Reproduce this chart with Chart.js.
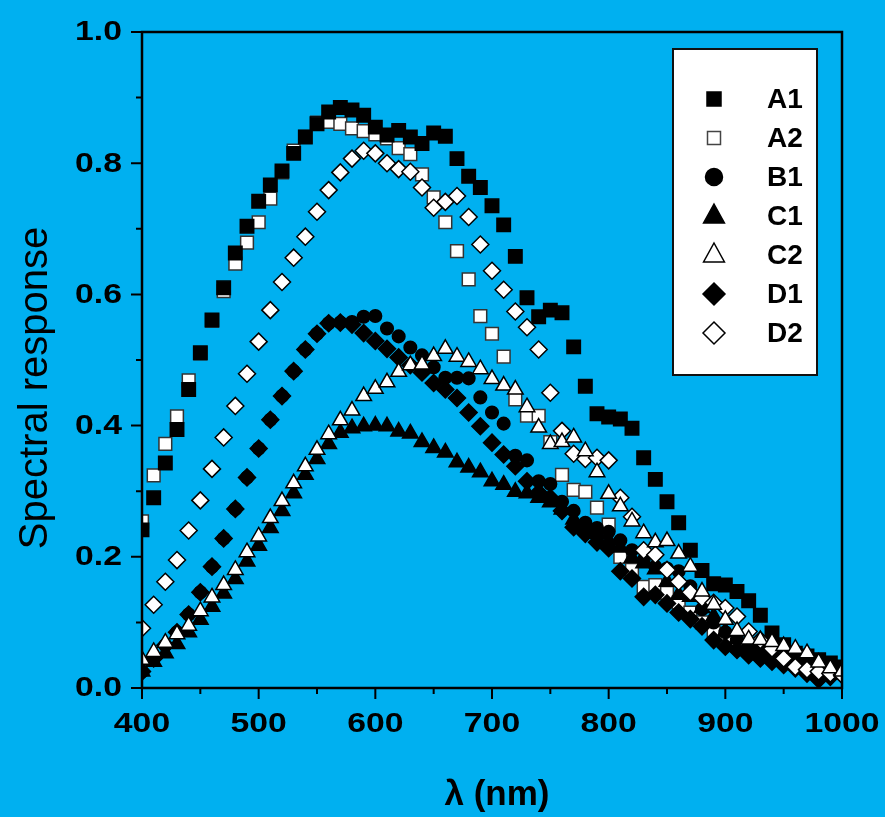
<!DOCTYPE html>
<html>
<head>
<meta charset="utf-8">
<script src="https://cdn.jsdelivr.net/npm/chart.js@4.4.1/dist/chart.umd.min.js"></script>
<style>
  html, body { margin: 0; padding: 0; background: #00B0F0; }
  #wrap { width: 885px; height: 817px; }
</style>
</head>
<body>
<div id="wrap"><canvas id="chart" width="885" height="817"></canvas></div>
<script>
// wavelength in nm
const wavelengths = [400, 410, 420, 430, 440, 450, 460, 470, 480, 490, 500, 510, 520, 530, 540, 550, 560, 570, 580, 590,
    600, 610, 620, 630, 640, 650, 660, 670, 680, 690, 700, 710, 720, 730, 740, 750, 760, 770, 780, 790,
    800, 810, 820, 830, 840, 850, 860, 870, 880, 890, 900, 910, 920, 930, 940, 950, 960, 970, 980, 990, 1000];

const A1 = [0.241, 0.29, 0.343, 0.394, 0.455, 0.511, 0.561, 0.61, 0.663, 0.704, 0.742, 0.767, 0.788, 0.815, 0.84, 0.86, 0.878, 0.885, 0.881, 0.873,
    0.855, 0.843, 0.85, 0.84, 0.83, 0.846, 0.841, 0.807, 0.78, 0.763, 0.735, 0.706, 0.658, 0.595, 0.566, 0.576, 0.572, 0.52, 0.46, 0.418,
    0.413, 0.41, 0.396, 0.351, 0.318, 0.284, 0.252, 0.21, 0.179, 0.159, 0.157, 0.147, 0.133, 0.111, 0.084, 0.066, 0.053, 0.049, 0.043, 0.038, 0.032];
const A2 = [0.254, 0.324, 0.372, 0.414, 0.469, 0.51, 0.56, 0.605, 0.647, 0.679, 0.71, 0.746, 0.786, 0.819, 0.84, 0.862, 0.863, 0.86, 0.853, 0.849,
    0.844, 0.838, 0.823, 0.814, 0.783, 0.748, 0.71, 0.666, 0.623, 0.567, 0.54, 0.505, 0.44, 0.415, 0.415, 0.375, 0.325, 0.302, 0.299, 0.275,
    0.249, 0.2, 0.18, 0.154, 0.157, 0.145, 0.13, 0.115, 0.1, 0.085, 0.072, 0.065, 0.058, 0.052, 0.048, 0.043, 0.038, 0.033, 0.03, 0.027, 0.024];
const B1 = [0.025, 0.045, 0.065, 0.085, 0.112, 0.146, 0.185, 0.228, 0.273, 0.321, 0.365, 0.409, 0.445, 0.483, 0.516, 0.54, 0.556, 0.557, 0.558, 0.566,
    0.567, 0.548, 0.536, 0.519, 0.507, 0.489, 0.473, 0.473, 0.472, 0.443, 0.42, 0.403, 0.354, 0.347, 0.315, 0.311, 0.284, 0.27, 0.252, 0.244,
    0.238, 0.225, 0.21, 0.195, 0.185, 0.182, 0.178, 0.155, 0.12, 0.1, 0.085, 0.075, 0.065, 0.058, 0.052, 0.045, 0.04, 0.035, 0.03, 0.027, 0.024];
const C1 = [0.025, 0.04, 0.053, 0.067, 0.085, 0.104, 0.124, 0.144, 0.166, 0.193, 0.217, 0.244, 0.27, 0.297, 0.325, 0.349, 0.372, 0.389, 0.396, 0.399,
    0.4, 0.399, 0.391, 0.388, 0.375, 0.366, 0.359, 0.344, 0.336, 0.329, 0.315, 0.31, 0.299, 0.297, 0.29, 0.283, 0.272, 0.257, 0.245, 0.235,
    0.225, 0.214, 0.198, 0.19, 0.181, 0.162, 0.142, 0.139, 0.122, 0.109, 0.086, 0.075, 0.068, 0.062, 0.055, 0.05, 0.045, 0.04, 0.035, 0.03, 0.028];
const C2 = [0.043, 0.055, 0.069, 0.082, 0.095, 0.117, 0.138, 0.157, 0.18, 0.207, 0.231, 0.259, 0.285, 0.312, 0.338, 0.363, 0.387, 0.408, 0.423, 0.445,
    0.456, 0.466, 0.482, 0.492, 0.493, 0.506, 0.517, 0.505, 0.497, 0.486, 0.471, 0.461, 0.455, 0.428, 0.397, 0.372, 0.375, 0.382, 0.361, 0.329,
    0.296, 0.277, 0.254, 0.236, 0.222, 0.224, 0.205, 0.185, 0.147, 0.127, 0.104, 0.087, 0.074, 0.073, 0.07, 0.064, 0.06, 0.053, 0.039, 0.03, 0.025];
const D1 = [0.025, 0.045, 0.065, 0.085, 0.112, 0.146, 0.185, 0.228, 0.273, 0.321, 0.365, 0.409, 0.445, 0.483, 0.516, 0.54, 0.556, 0.557, 0.554, 0.541,
    0.529, 0.517, 0.504, 0.492, 0.481, 0.465, 0.455, 0.442, 0.42, 0.399, 0.374, 0.356, 0.338, 0.315, 0.298, 0.29, 0.27, 0.245, 0.235, 0.222,
    0.213, 0.178, 0.167, 0.139, 0.142, 0.129, 0.115, 0.105, 0.094, 0.073, 0.063, 0.058, 0.05, 0.045, 0.04, 0.035, 0.03, 0.022, 0.013, 0.017, 0.022];
const D2 = [0.091, 0.127, 0.162, 0.195, 0.24, 0.286, 0.334, 0.382, 0.43, 0.479, 0.528, 0.576, 0.619, 0.656, 0.688, 0.726, 0.759, 0.786, 0.807, 0.819,
    0.815, 0.8, 0.791, 0.787, 0.763, 0.732, 0.741, 0.75, 0.718, 0.676, 0.636, 0.607, 0.574, 0.55, 0.516, 0.45, 0.392, 0.357, 0.349, 0.351,
    0.347, 0.29, 0.261, 0.21, 0.203, 0.18, 0.162, 0.146, 0.137, 0.13, 0.122, 0.109, 0.086, 0.073, 0.06, 0.045, 0.032, 0.028, 0.025, 0.022, 0.02];

const xMajor = [400, 500, 600, 700, 800, 900, 1000];
const xMinor = [450, 550, 650, 750, 850, 950];
const yMajor = [0, 0.2, 0.4, 0.6, 0.8, 1.0];
const yMinor = [0.1, 0.3, 0.5, 0.7, 0.9];
const yLabels = ['0.0', '0.2', '0.4', '0.6', '0.8', '1.0'];

const bg = '#00B0F0';
const FONT = '"Liberation Sans", Arial, sans-serif';

// style of each series: marker, fill, size, draw order (lower = on top)
const series = [
    { label: 'A1', data: A1, style: 'rect', fill: '#000', line: '#000', r: 9.5, order: 5 },
    { label: 'A2', data: A2, style: 'rect', fill: '#fff', line: '#333', r: 9, order: 6 },
    { label: 'B1', data: B1, style: 'circle', fill: '#000', line: '#000', r: 6.3, order: 4 },
    { label: 'C1', data: C1, style: 'triangle', fill: '#000', line: '#000', r: 9, order: 2 },
    { label: 'C2', data: C2, style: 'triangle', fill: '#fff', line: '#000', r: 9, order: 0 },
    { label: 'D1', data: D1, style: 'rectRot', fill: '#000', line: '#000', r: 8.5, order: 3 },
    { label: 'D2', data: D2, style: 'rectRot', fill: '#fff', line: '#000', r: 8.5, order: 1 }
];

function toPoints(values) {
    return values.map((v, i) => ({ x: wavelengths[i], y: v }));
}

// draws a marker shape for the legend
function marker(ctx, style, x, y, r, fill, line) {
    ctx.save();
    ctx.beginPath();
    if (style === 'rect') {
        ctx.rect(x - r, y - r, 2 * r, 2 * r);
    } else if (style === 'circle') {
        ctx.arc(x, y, r, 0, Math.PI * 2);
    } else if (style === 'triangle') {
        ctx.moveTo(x, y - r);
        ctx.lineTo(x + r * 0.87, y + r * 0.5 + 1);
        ctx.lineTo(x - r * 0.87, y + r * 0.5 + 1);
        ctx.closePath();
    } else {
        ctx.moveTo(x, y - r);
        ctx.lineTo(x + r, y);
        ctx.lineTo(x, y + r);
        ctx.lineTo(x - r, y);
        ctx.closePath();
    }
    ctx.fillStyle = fill;
    ctx.fill();
    ctx.lineWidth = 1.5;
    ctx.strokeStyle = line;
    ctx.stroke();
    ctx.restore();
}

// frame, ticks, tick labels, titles and legend box
const decor = {
    id: 'decor',
    beforeDraw(chart) {
        const ctx = chart.ctx;
        ctx.save();
        ctx.fillStyle = bg;
        ctx.fillRect(0, 0, chart.width, chart.height);
        ctx.restore();
    },
    afterDraw(chart) {
        const ctx = chart.ctx;
        const a = chart.chartArea;
        const xs = chart.scales.x, ys = chart.scales.y;
        ctx.save();
        ctx.strokeStyle = '#000';
        ctx.lineWidth = 2.5;
        ctx.strokeRect(a.left, a.top, a.right - a.left, a.bottom - a.top);

        ctx.lineWidth = 2;
        ctx.beginPath();
        xMajor.forEach(v => { const p = xs.getPixelForValue(v); ctx.moveTo(p, a.bottom); ctx.lineTo(p, a.bottom + 11); });
        xMinor.forEach(v => { const p = xs.getPixelForValue(v); ctx.moveTo(p, a.bottom); ctx.lineTo(p, a.bottom + 6); });
        yMajor.forEach(v => { const p = ys.getPixelForValue(v); ctx.moveTo(a.left, p); ctx.lineTo(a.left - 11, p); });
        yMinor.forEach(v => { const p = ys.getPixelForValue(v); ctx.moveTo(a.left, p); ctx.lineTo(a.left - 6, p); });
        ctx.stroke();

        // tick labels (the original font is drawn a little wider than it is tall)
        ctx.fillStyle = '#000';
        ctx.font = 'bold 27px ' + FONT;
        ctx.textBaseline = 'middle';
        yMajor.forEach((v, i) => {
            ctx.save();
            ctx.translate(122, ys.getPixelForValue(v) + 1);
            ctx.scale(1.25, 1);
            ctx.textAlign = 'right';
            ctx.fillText(yLabels[i], 0, 0);
            ctx.restore();
        });
        ctx.textBaseline = 'top';
        xMajor.forEach(v => {
            ctx.save();
            ctx.translate(xs.getPixelForValue(v), 711);
            ctx.scale(1.25, 1);
            ctx.textAlign = 'center';
            ctx.fillText(String(v), 0, 0);
            ctx.restore();
        });

        // axis titles
        ctx.font = 'bold 35px ' + FONT;
        ctx.textAlign = 'center';
        ctx.textBaseline = 'alphabetic';
        ctx.fillText('\u03BB (nm)', 497, 805);

        ctx.save();
        ctx.translate(47, 388);
        ctx.rotate(-Math.PI / 2);
        ctx.font = '40px ' + FONT;
        ctx.fillText('Spectral response', 0, 0);
        ctx.restore();

        // legend
        ctx.fillStyle = '#fff';
        ctx.fillRect(673, 49, 144, 326);
        ctx.lineWidth = 2;
        ctx.strokeStyle = '#111';
        ctx.strokeRect(673, 49, 144, 326);
        const big = { rect: 7, circle: 8.5, triangle: 12, rectRot: 11 };
        series.forEach((s, i) => {
            const y = 99 + i * 39;
            const r = s.label === 'A2' ? 6.5 : big[s.style];
            marker(ctx, s.style, 714, y, r, s.fill, s.label === 'A2' ? '#444' : '#000');
            ctx.fillStyle = '#000';
            ctx.font = 'bold 28px ' + FONT;
            ctx.textAlign = 'left';
            ctx.textBaseline = 'middle';
            ctx.fillText(s.label, 767, y + 1);
        });
        ctx.restore();
    }
};

const datasets = series.map(s => ({
    label: s.label,
    data: toPoints(s.data),
    showLine: false,
    pointStyle: s.style,
    pointRadius: s.r,
    pointHoverRadius: s.r,
    pointBackgroundColor: s.fill,
    pointBorderColor: s.line,
    pointBorderWidth: 1.5,
    order: s.order
}));

new Chart(document.getElementById('chart'), {
    type: 'scatter',
    data: { datasets: datasets },
    options: {
        responsive: false,
        animation: false,
        devicePixelRatio: 1,
        layout: { padding: { left: 142, right: 43, top: 32, bottom: 129 } },
        plugins: { legend: { display: false }, tooltip: { enabled: false } },
        scales: {
            x: { type: 'linear', min: 400, max: 1000, display: false },
            y: { type: 'linear', min: 0, max: 1.0, display: false }
        }
    },
    plugins: [decor]
});
</script>
</body>
</html>
